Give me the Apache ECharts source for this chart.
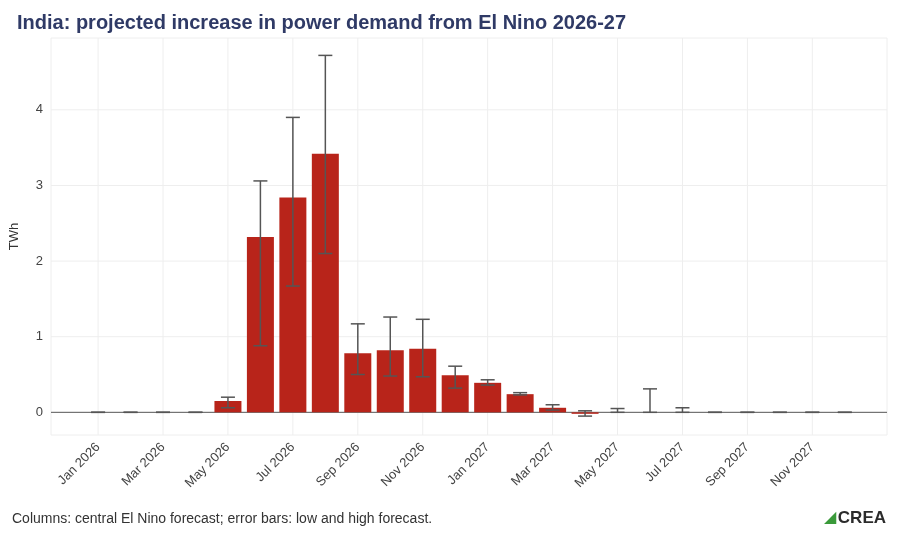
<!DOCTYPE html>
<html>
<head>
<meta charset="utf-8">
<script src="https://cdn.jsdelivr.net/npm/echarts@6/dist/echarts.min.js"></script>
</head>
<body style="margin:0">
<div id="chart" style="width:900px;height:540px;"></div>
<script>
var months = ['Jan 2026','Feb 2026','Mar 2026','Apr 2026','May 2026','Jun 2026','Jul 2026','Aug 2026','Sep 2026','Oct 2026','Nov 2026','Dec 2026',
              'Jan 2027','Feb 2027','Mar 2027','Apr 2027','May 2027','Jun 2027','Jul 2027','Aug 2027','Sep 2027','Oct 2027','Nov 2027','Dec 2027'];
var central = [0,0,0,0,0.15,2.32,2.84,3.42,0.78,0.82,0.84,0.49,0.39,0.24,0.06,-0.02,0,0,0,0,0,0,0,0];
var low     = [0,0,0,0,0.06,0.88,1.67,2.10,0.50,0.48,0.47,0.32,0.36,0.23,0.03,-0.05,0,0,0,0,0,0,0,0];
var high    = [0,0,0,0,0.20,3.06,3.90,4.72,1.17,1.26,1.23,0.61,0.43,0.26,0.10,0.02,0.05,0.31,0.06,0,0,0,0,0];
var labelIdx = [0,2,4,6,8,10,12,14,16,18,20,22];

var chart = echarts.init(document.getElementById('chart'));
var barData = central.map(function (v, i) { return [i, v]; });
var errData = central.map(function (v, i) { return [i, low[i], high[i]]; });

chart.setOption({
  animation: false,
  textStyle: { fontFamily: 'Liberation Sans' },
  title: {
    text: 'India: projected increase in power demand from El Nino 2026-27',
    left: 12, top: 8,
    textStyle: { color: '#2f3a66', fontSize: 20, fontWeight: 'bold', fontFamily: 'Liberation Sans' }
  },
  graphic: [
    { type: 'text', left: 12, top: 512, style: { text: 'Columns: central El Nino forecast; error bars: low and high forecast.', fill: '#333', fontSize: 14, fontFamily: 'Liberation Sans' } },
    { type: 'text', right: 14, top: 510, style: { text: 'CREA', fill: '#2b2b2b', fontSize: 17, fontWeight: 'bold', fontFamily: 'Liberation Sans' } },
    { type: 'text', right: 64, top: 510, style: { text: '◢', fill: '#3a9a3a', fontSize: 16 } }
  ],
  grid: { left: 50, right: 13, top: 38, bottom: 105, show: true, borderColor: '#eeeeee', borderWidth: 1 },
  xAxis: {
    type: 'value', min: -1.45, max: 24.3,
    axisLine: { show: false }, axisTick: { show: false },
    splitLine: { show: false },
    axisLabel: {
      customValues: labelIdx, rotate: 45, color: '#444', fontSize: 13, margin: 10,
      formatter: function (v) { return months[Math.round(v)]; }
    }
  },
  yAxis: {
    type: 'value', min: -0.3, max: 4.95,
    name: 'TWh', nameLocation: 'middle', nameGap: 30, nameTextStyle: { color: '#333', fontSize: 13 },
    axisLine: { show: false }, axisTick: { show: false },
    axisLabel: { customValues: [0,1,2,3,4], color: '#444', fontSize: 13 },
    splitLine: { show: false }
  },
  series: [
    {
      type: 'custom', silent: true, z: 0,
      data: labelIdx.map(function (i) { return [i]; }),
      renderItem: function (params, api) {
        var x = api.coord([api.value(0), 0])[0];
        var r = params.coordSys;
        return { type: 'line', shape: { x1: x, y1: r.y, x2: x, y2: r.y + r.height }, style: { stroke: '#eeeeee', lineWidth: 1 } };
      }
    },
    {
      type: 'custom', silent: true, z: 0,
      data: [[0],[1],[2],[3],[4]],
      renderItem: function (params, api) {
        var y = api.coord([0, api.value(0)])[1];
        var r = params.coordSys;
        return { type: 'line', shape: { x1: r.x, y1: y, x2: r.x + r.width, y2: y }, style: { stroke: api.value(0) === 0 ? '#555' : '#eeeeee', lineWidth: 1 } };
      }
    },
    {
      type: 'bar', data: barData, barWidth: 27, z: 2,
      itemStyle: { color: '#b8241a' }
    },
    {
      type: 'custom', z: 3, data: errData,
      renderItem: function (params, api) {
        var x = api.coord([api.value(0), 0])[0];
        var y1 = api.coord([0, api.value(1)])[1];
        var y2 = api.coord([0, api.value(2)])[1];
        var st = { stroke: '#555', lineWidth: 1.5 };
        return { type: 'group', children: [
          { type: 'line', shape: { x1: x, y1: y1, x2: x, y2: y2 }, style: st },
          { type: 'line', shape: { x1: x - 7, y1: y1, x2: x + 7, y2: y1 }, style: st },
          { type: 'line', shape: { x1: x - 7, y1: y2, x2: x + 7, y2: y2 }, style: st }
        ] };
      }
    }
  ]
});
</script>
</body>
</html>
